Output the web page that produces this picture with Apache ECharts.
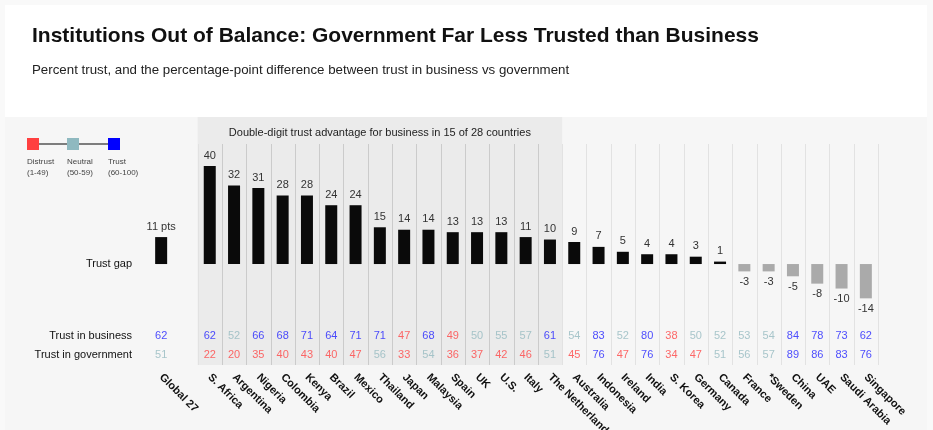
<!DOCTYPE html>
<html>
<head>
<meta charset="utf-8">
<script src="https://cdn.jsdelivr.net/npm/echarts@6/dist/echarts.min.js"></script>
<style>
  html, body { margin: 0; padding: 0; background: #f9f9f9; }
  #chart { width: 933px; height: 430px; }
</style>
</head>
<body>
<div id="chart"></div>
<script>
// categories: Global 27, an empty spacer column, then the 28 countries
const categories = ['Global 27', '', 'S. Africa', 'Argentina', 'Nigeria', 'Colombia', 'Kenya', 'Brazil', 'Mexico',
  'Thailand', 'Japan', 'Malaysia', 'Spain', 'UK', 'U.S.', 'Italy', 'The Netherlands', 'Australia', 'Indonesia',
  'Ireland', 'India', 'S. Korea', 'Germany', 'Canada', 'France', '*Sweden', 'China', 'UAE', 'Saudi Arabia', 'Singapore'];
const trustGap = [11, null, 40, 32, 31, 28, 28, 24, 24, 15, 14, 14, 13, 13, 13, 11, 10, 9, 7, 5, 4, 4, 3, 1, -3, -3, -5, -8, -10, -14];
const trustBusiness = [62, null, 62, 52, 66, 68, 71, 64, 71, 71, 47, 68, 49, 50, 55, 57, 61, 54, 83, 52, 80, 38, 50, 52, 53, 54, 84, 78, 73, 62];
const trustGovernment = [51, null, 22, 20, 35, 40, 43, 40, 47, 56, 33, 54, 36, 37, 42, 46, 51, 45, 76, 47, 76, 34, 47, 51, 56, 57, 89, 86, 83, 76];
const rowNames = ['Trust in business', 'Trust in government'];
const firstCountry = 2;
const doubleDigitCount = 15; // shaded block: 15 of 28 countries

function trustColor(v) {
  if (v < 50) return '#ff4444';
  if (v < 60) return '#94b9bf';
  return '#2222ff';
}

const chart = echarts.init(document.getElementById('chart'));

const countryIdx = [];
for (let i = firstCountry; i < categories.length; i++) countryIdx.push([i, 0]);

const rowData = [];
trustBusiness.forEach((v, i) => {
  if (v != null) rowData.push({ value: [i, rowNames[0], v], label: { color: trustColor(v) } });
});
trustGovernment.forEach((v, i) => {
  if (v != null) rowData.push({ value: [i, rowNames[1], v], label: { color: trustColor(v) } });
});

const option = {
  backgroundColor: '#f9f9f9',
  animation: false,
  title: [
    { text: 'Institutions Out of Balance: Government Far Less Trusted than Business', left: 27, top: 21,
      textStyle: { fontFamily: 'Liberation Sans, Arial', fontSize: 21, fontWeight: 'bold', color: '#111' } },
    { text: 'Percent trust, and the percentage-point difference between trust in business vs government', left: 27, top: 59,
      textStyle: { fontFamily: 'Liberation Sans, Arial', fontSize: 13.3, fontWeight: 'normal', color: '#222' } }
  ],
  graphic: [
    { type: 'rect', z: -10, shape: { x: 5, y: 5, width: 922, height: 112 }, style: { fill: '#ffffff' } },
    { type: 'rect', z: -10, shape: { x: 5, y: 117, width: 922, height: 313 }, style: { fill: '#f6f6f6' } },
    // legend
    { type: 'line', shape: { x1: 39, y1: 144, x2: 108, y2: 144 }, style: { stroke: '#555', lineWidth: 1.5 } },
    { type: 'rect', shape: { x: 27, y: 138, width: 12, height: 12 }, style: { fill: '#ff4040' } },
    { type: 'rect', shape: { x: 67, y: 138, width: 12, height: 12 }, style: { fill: '#8fb9c0' } },
    { type: 'rect', shape: { x: 108, y: 138, width: 12, height: 12 }, style: { fill: '#0000ff' } },
    { type: 'text', style: { x: 27, y: 157, text: 'Distrust\n(1-49)', fontSize: 8, lineHeight: 10.5, fill: '#444', fontFamily: 'Liberation Sans, Arial' } },
    { type: 'text', style: { x: 67, y: 157, text: 'Neutral\n(50-59)', fontSize: 8, lineHeight: 10.5, fill: '#444', fontFamily: 'Liberation Sans, Arial' } },
    { type: 'text', style: { x: 108, y: 157, text: 'Trust\n(60-100)', fontSize: 8, lineHeight: 10.5, fill: '#444', fontFamily: 'Liberation Sans, Arial' } },
    { type: 'text', style: { x: 132, y: 264, text: 'Trust gap', align: 'right', verticalAlign: 'middle', fontSize: 11, fill: '#111', fontFamily: 'Liberation Sans, Arial' } }
  ],
  grid: [
    { left: 149, width: 729, top: 117, height: 248, outerBoundsMode: 'none', containLabel: false },
    { left: 149, width: 729, top: 326.5, height: 38, outerBoundsMode: 'none', containLabel: false }
  ],
  xAxis: [
    { type: 'category', gridIndex: 0, data: categories, axisLine: { show: false }, axisTick: { show: false },
      axisLabel: { show: false }, splitLine: { show: false } },
    { type: 'category', gridIndex: 1, data: categories, axisLine: { show: false }, axisTick: { show: false },
      axisLabel: { interval: 0, rotate: -45, margin: 11, fontSize: 11, fontWeight: 'bold', color: '#111',
        fontFamily: 'Liberation Sans, Arial' } }
  ],
  yAxis: [
    { type: 'value', gridIndex: 0, min: -41.2, max: 60, show: false },
    { type: 'category', gridIndex: 1, data: rowNames, inverse: true, axisLine: { show: false }, axisTick: { show: false },
      axisLabel: { interval: 0, margin: 17, fontSize: 11, color: '#111', fontFamily: 'Liberation Sans, Arial' } }
  ],
  series: [
    { // shaded block of double-digit countries
      type: 'custom', xAxisIndex: 0, yAxisIndex: 0, z: 0, silent: true,
      data: [[firstCountry, firstCountry + doubleDigitCount - 1]],
      renderItem: function (params, api) {
        const w = api.size([1, 0])[0];
        const x0 = api.coord([api.value(0), 0])[0] - w / 2;
        const x1 = api.coord([api.value(1), 0])[0] + w / 2;
        const cs = params.coordSys;
        return { type: 'group', children: [
          { type: 'rect', shape: { x: x0, y: cs.y, width: x1 - x0, height: cs.height }, style: { fill: '#ebebeb' } },
          { type: 'text', style: { x: (x0 + x1) / 2, y: cs.y + 16, text: 'Double-digit trust advantage for business in 15 of 28 countries',
            align: 'center', verticalAlign: 'middle', fontSize: 11, fill: '#222', fontFamily: 'Liberation Sans, Arial' } }
        ] };
      }
    },
    { // column separators
      type: 'custom', xAxisIndex: 0, yAxisIndex: 0, z: 1, silent: true,
      data: countryIdx,
      renderItem: function (params, api) {
        const idx = api.value(0);
        const w = api.size([1, 0])[0];
        const cx = api.coord([idx, 0])[0];
        const cs = params.coordSys;
        const top = cs.y + 27, bottom = cs.y + cs.height;
        const inShade = idx < firstCountry + doubleDigitCount;
        const lines = [];
        const xl = Math.round(cx - w / 2) + 0.5;
        lines.push({ type: 'line', shape: { x1: xl, y1: top, x2: xl, y2: bottom },
          style: { stroke: inShade && idx > firstCountry ? '#cbcbcb' : '#e2e2e2', lineWidth: 1 } });
        if (idx === categories.length - 1) {
          const xr = Math.round(cx + w / 2) + 0.5;
          lines.push({ type: 'line', shape: { x1: xr, y1: top, x2: xr, y2: bottom }, style: { stroke: '#e2e2e2', lineWidth: 1 } });
        }
        return { type: 'group', children: lines };
      }
    },
    {
      type: 'bar', xAxisIndex: 0, yAxisIndex: 0, z: 3, barWidth: 12,
      data: trustGap.map(v => v == null ? null : {
        value: v,
        itemStyle: { color: v >= 0 ? '#0a0a0a' : '#aaaaaa' },
        label: { position: v >= 0 ? 'top' : 'bottom' }
      }),
      label: { show: true, distance: 5, fontSize: 11, color: '#333', fontFamily: 'Liberation Sans, Arial',
        formatter: p => p.dataIndex === 0 ? p.value + ' pts' : String(p.value) }
    },
    {
      type: 'scatter', xAxisIndex: 1, yAxisIndex: 1, z: 3, symbolSize: 1,
      itemStyle: { color: 'rgba(0,0,0,0)' },
      data: rowData,
      label: { show: true, position: 'inside', fontSize: 11, fontFamily: 'Liberation Sans, Arial',
        textBorderWidth: 0, formatter: p => String(p.value[2]) }
    }
  ]
};

chart.setOption(option);
</script>
</body>
</html>
